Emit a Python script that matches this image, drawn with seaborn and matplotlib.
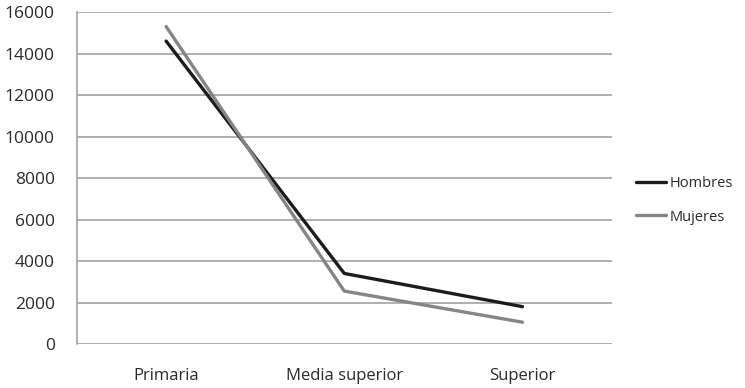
import matplotlib
matplotlib.use("Agg")
import matplotlib.pyplot as plt
import seaborn as sns
import pandas as pd

categories = ["Primaria", "Media superior", "Superior"]
hombres = [14600, 3400, 1800]
mujeres = [15300, 2550, 1050]
series_names = ["Hombres", "Mujeres"]
yticks = [0, 2000, 4000, 6000, 8000, 10000, 12000, 14000, 16000]

df = pd.DataFrame({
    "Nivel": categories * 2,
    "Valor": hombres + mujeres,
    "Sexo": [series_names[0]] * 3 + [series_names[1]] * 3,
})

sns.set_style("white")
plt.rcParams["font.family"] = ["Open Sans", "DejaVu Sans"]

fig = plt.figure(figsize=(7.45, 3.88), dpi=100)
ax = fig.add_axes([0.1034, 0.1134, 0.7175, 0.8556])

sns.lineplot(data=df, x="Nivel", y="Valor", hue="Sexo", sort=False,
             palette={"Hombres": "#1c1c1c", "Mujeres": "#858585"},
             linewidth=2.4, ax=ax)

ax.set_xlim(-0.5, 2.5)
ax.set_ylim(0, 16000)
ax.set_yticks(yticks)
ax.set_yticklabels([str(v) for v in yticks], fontsize=12.5, color="#2a2a2a")
ax.set_xticks([-0.5, 0.5, 1.5, 2.5], minor=False)
ax.set_xticklabels([])
ax.set_xticks([0, 1, 2], minor=True)
ax.set_xticklabels(categories, minor=True, fontsize=12, color="#2a2a2a")
ax.tick_params(axis="x", which="minor", length=0, pad=17)
ax.tick_params(axis="x", which="major", length=5, color="#999999", direction="out")
ax.tick_params(axis="y", length=6, color="#999999", direction="out", pad=10)
ax.set_xlabel("")
ax.set_ylabel("")

for v in yticks:
    ax.axhline(v, color="#9a9a9a", linewidth=1.1, zorder=0)

for s in ["top", "right", "bottom"]:
    ax.spines[s].set_visible(False)
ax.spines["left"].set_color("#9a9a9a")
ax.spines["left"].set_linewidth(1.1)

leg = ax.legend(loc="center left", bbox_to_anchor=(1.022, 0.4325), frameon=False,
                fontsize=10.5, handlelength=2.0, handletextpad=0.3, labelspacing=1.25)
for t in leg.get_texts():
    t.set_color("#2a2a2a")

fig.savefig("out.png", dpi=100)
